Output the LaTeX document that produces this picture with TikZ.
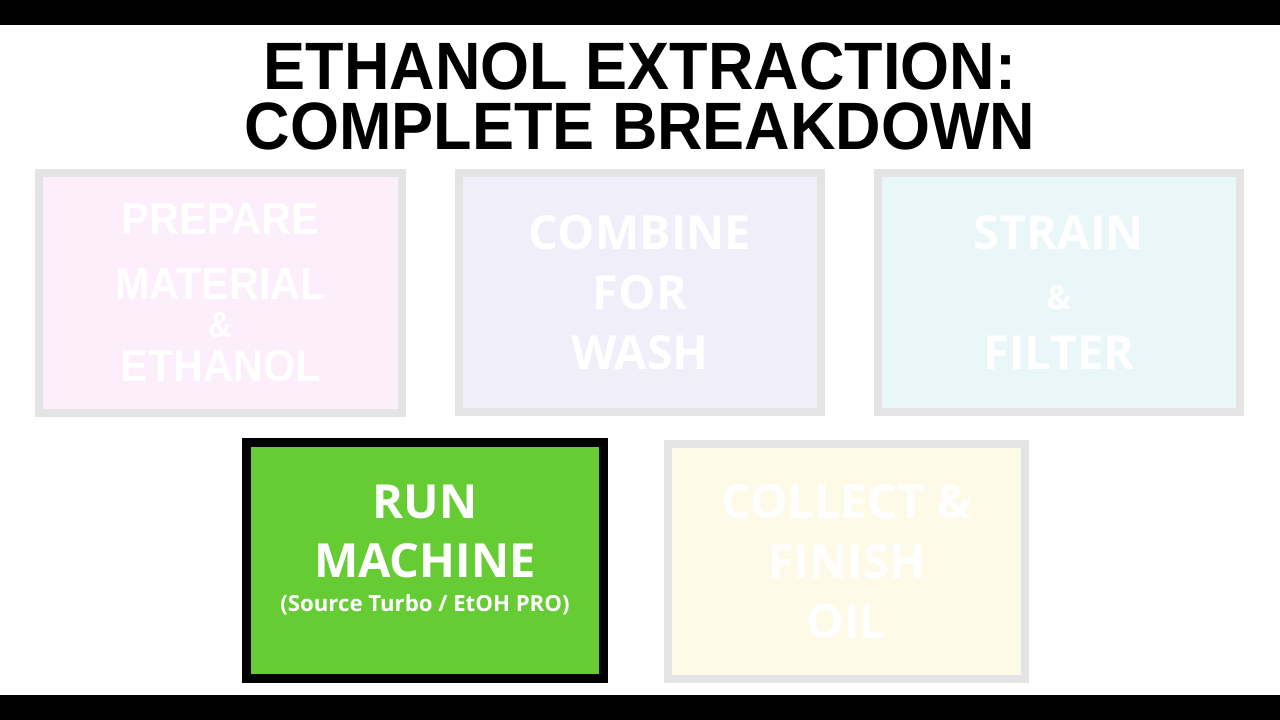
\documentclass[tikz,border=0pt]{standalone}
\usepackage{fontspec}
\newfontfamily\titlefont[FakeStretch=0.94]{Liberation Sans}
\newfontfamily\prepfont[FakeStretch=0.92]{Liberation Sans}
\newfontfamily\stepfont{Open Sans}

\definecolor{boxgray}{HTML}{E4E4E4}
\definecolor{prepfill}{HTML}{FCEEFA}
\definecolor{washfill}{HTML}{EFEEF9}
\definecolor{filterfill}{HTML}{E9F7F9}
\definecolor{oilfill}{HTML}{FDFAE8}
\definecolor{rungreen}{HTML}{66CC33}

\tikzset{stepbox/.style={draw=boxgray,line width=8pt,inner sep=0pt,text=white,align=center,
		minimum width=362pt,minimum height=239pt,font=\stepfont\bfseries\fontsize{47}{59}\selectfont}}

\begin{document}
\begin{tikzpicture}[x=1pt,y=-1pt]

	\fill[white] (0,0) rectangle (1280,720);
	\useasboundingbox (0,0) rectangle (1280,720);

	\foreach \y in {0,695}
		\fill[black] (0,\y) rectangle (1280,\y+25);

	\node [align=center,inner sep=0pt,font=\titlefont\bfseries\fontsize{67}{60}\selectfont] (title) at (640,96)
		{ETHANOL EXTRACTION:\\COMPLETE BREAKDOWN};

	% first row
	\node [stepbox,fill=prepfill,minimum width=363pt,minimum height=240pt,
		font=\prepfont\bfseries\fontsize{45}{65}\selectfont] (prep) at (220.5,293)
		{PREPARE\\MATERIAL\\[-27pt]{\fontsize{36}{40}\selectfont\&}\\[-21pt]ETHANOL};

	\node [stepbox,fill=washfill,font=\stepfont\bfseries\fontsize{47}{60}\selectfont] (wash) at (640,292.5)
		{COMBINE\\FOR\\WASH};

	\node [stepbox,fill=filterfill,font=\stepfont\bfseries\fontsize{47}{60}\selectfont] (filter) at (1059,292.5)
		{STRAIN\\{\fontsize{33}{40}\selectfont\&}\\FILTER};

	% second row
	\node [stepbox,draw=black,line width=9pt,fill=rungreen,minimum width=357pt,minimum height=236pt,
		text depth=24pt] (run) at (425,560.5)
		{RUN\\MACHINE\\[-25pt]{\fontsize{22.2}{28}\selectfont(Source Turbo / EtOH PRO)}};

	\node [stepbox,fill=oilfill,minimum width=357pt,minimum height=235pt,
		font=\stepfont\bfseries\fontsize{47}{60}\selectfont] (oil) at (846.5,561.5)
		{COLLECT \&\\FINISH\\OIL};

\end{tikzpicture}
\end{document}
